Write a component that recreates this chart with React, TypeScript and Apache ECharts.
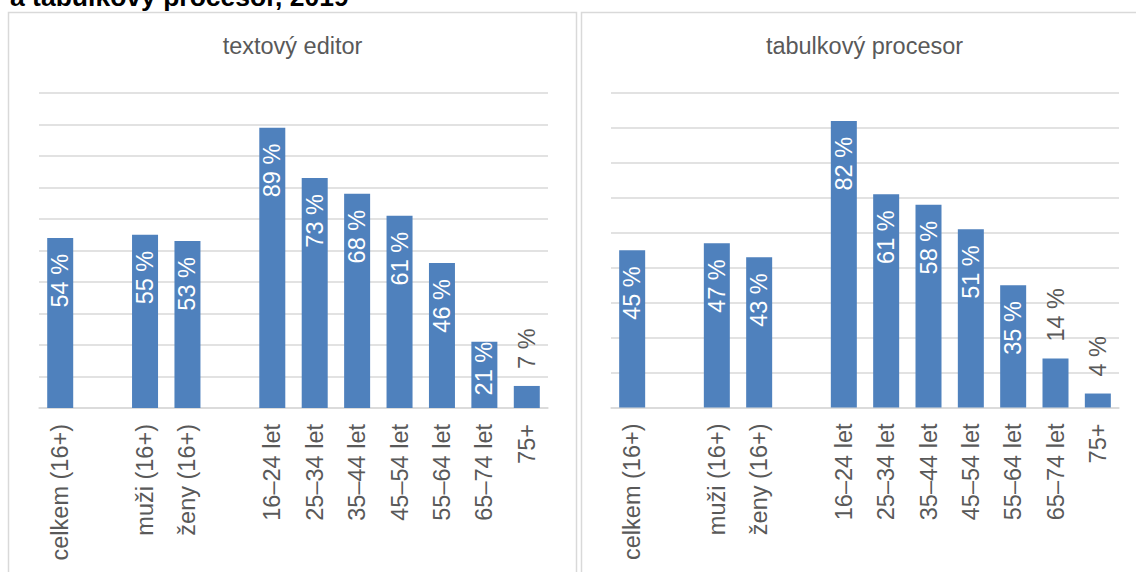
import React, { useEffect, useRef } from "react";
import * as echarts from "echarts";

const categories = [
  "celkem (16+)",
  "",
  "muži (16+)",
  "ženy (16+)",
  "",
  "16–24 let",
  "25–34 let",
  "35–44 let",
  "45–54 let",
  "55–64 let",
  "65–74 let",
  "75+",
];
const textEditorValues: (number | null)[] = [54, null, 55, 53, null, 89, 73, 68, 61, 46, 21, 7];
const spreadsheetValues: (number | null)[] = [45, null, 47, 43, null, 82, 61, 58, 51, 35, 14, 4];
const panelTitles = ["textový editor", "tabulkový procesor"];
const mainTitle = "a tabulkový procesor, 2019";

const FONT = "'Liberation Sans', Arial, sans-serif";
const GREY = "#595959";
const GRID_GREY = "#d9d9d9";
const BAR = "#4f81bd";
const FS = 23.5;

function buildData(values: (number | null)[], max: number, plotH: number) {
  return values.map((v) => {
    if (v === null) return { value: null };
    const h = (v / max) * plotH;
    const labelLen = 54;
    if (h >= labelLen + 30) {
      return { value: v };
    }
    if (h >= labelLen) {
      return { value: v, label: { distance: 0 } };
    }
    return {
      value: v,
      label: {
        position: "top",
        align: "left",
        color: GREY,
        distance: 17,
      },
    };
  });
}

export default function App() {
  const ref = useRef<HTMLDivElement>(null);
  useEffect(() => {
    if (!ref.current) return;
    const chart = echarts.init(ref.current, undefined, { renderer: "svg" });
    const grids = [
      { left: 39, top: 93, width: 509, height: 315 },
      { left: 611, top: 93, width: 508, height: 314.5 },
    ];
    const maxes = [100, 90];
    const seriesValues = [textEditorValues, spreadsheetValues];
    const labelBase = {
      show: true,
      position: "insideTop",
      rotate: 90,
      align: "right",
      verticalAlign: "middle",
      distance: 16,
      color: "#ffffff",
      fontSize: FS,
      fontFamily: FONT,
      formatter: (p: any) => `${p.value} %`,
    };
    chart.setOption({
      animation: false,
      backgroundColor: "#ffffff",
      textStyle: { fontFamily: FONT },
      graphic: [
        {
          type: "rect",
          shape: { x: 8.5, y: 12.5, width: 568, height: 620 },
          style: { fill: "none", stroke: GRID_GREY, lineWidth: 1.5 },
          z: 0,
        },
        {
          type: "rect",
          shape: { x: 581.5, y: 12.5, width: 567, height: 620 },
          style: { fill: "none", stroke: GRID_GREY, lineWidth: 1.5 },
          z: 0,
        },
        {
          type: "text",
          x: 10,
          y: -3.5,
          style: {
            text: mainTitle,
            font: `bold 26.5px ${FONT}`,
            fill: "#000000",
            align: "left",
            verticalAlign: "middle",
          },
        },
        {
          type: "text",
          x: 292.5,
          y: 46.4,
          style: {
            text: panelTitles[0],
            font: `${FS}px ${FONT}`,
            fill: GREY,
            align: "center",
            verticalAlign: "middle",
          },
        },
        {
          type: "text",
          x: 864.5,
          y: 46,
          style: {
            text: panelTitles[1],
            font: `${FS}px ${FONT}`,
            fill: GREY,
            align: "center",
            verticalAlign: "middle",
          },
        },
      ],
      grid: grids,
      xAxis: grids.map((_, i) => ({
        type: "category",
        gridIndex: i,
        data: categories,
        axisTick: { show: false },
        axisLine: { show: true, lineStyle: { color: GRID_GREY, width: 1.5 } },
        axisLabel: {
          interval: 0,
          rotate: 90,
          margin: 16,
          color: GREY,
          fontSize: FS,
          fontFamily: FONT,
        },
      })),
      yAxis: grids.map((_, i) => ({
        type: "value",
        gridIndex: i,
        min: 0,
        max: maxes[i],
        interval: 10,
        axisLabel: { show: false },
        axisLine: { show: false },
        axisTick: { show: false },
        splitLine: { show: true, lineStyle: { color: GRID_GREY, width: 1.5 } },
      })),
      series: grids.map((g, i) => ({
        type: "bar",
        xAxisIndex: i,
        yAxisIndex: i,
        barWidth: 26,
        itemStyle: { color: BAR },
        label: labelBase,
        data: buildData(seriesValues[i], maxes[i], g.height),
      })),
    });
    return () => chart.dispose();
  }, []);
  return (
    <div
      ref={ref}
      style={{ position: "absolute", left: 0, top: 0, width: 1136, height: 572 }}
    />
  );
}
